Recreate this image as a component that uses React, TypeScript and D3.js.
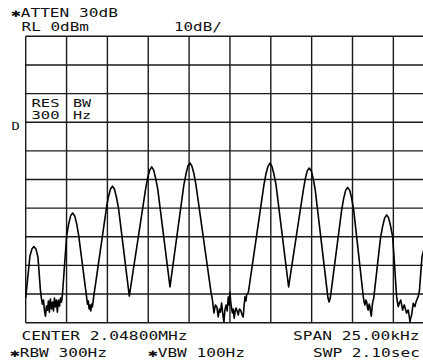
import * as d3 from 'd3';

// Screen geometry (spectrum analyzer CRT plot)
const WIDTH = 423;
const HEIGHT = 361;
const PLOT = { left: 25.7, top: 36.3, width: 408.5, height: 286.4 };

// Axis settings read from the annotations
const SPAN_KHZ = 25;          // SPAN 25.00kHz, centred on 2.04800 MHz
const REF_LEVEL = 0;          // RL 0dBm
const DB_PER_DIV = 10;        // 10dB/
const DIVISIONS = 10;

// Trace: [offset from centre in kHz, level in dBm]
const trace: [number, number][] = [
  [-12.5, -91.4], [-12.39, -85.1], [-12.24, -76.7], [-12.12, -74.3], [-12.0, -73.4],
  [-11.87, -74.3], [-11.75, -77.1], [-11.6, -88.6],
  [-11.54, -91.4], [-11.48, -93.5], [-11.41, -92.1], [-11.35, -95.9], [-11.29, -97.7],
  [-11.23, -94.2], [-11.17, -95.6], [-11.11, -92.4], [-11.05, -96.3], [-10.99, -91.7],
  [-10.92, -95.2], [-10.86, -92.8], [-10.8, -95.9], [-10.74, -91.4], [-10.68, -94.5],
  [-10.62, -92.1], [-10.56, -96.3], [-10.5, -92.1], [-10.43, -94.2], [-10.37, -91.4],
  [-10.31, -92.8], [-10.25, -90.0],
  [-9.99, -69.4], [-9.87, -65.5], [-9.75, -62.7], [-9.63, -61.7], [-9.5, -62.7],
  [-9.38, -65.5], [-9.26, -69.4],
  [-8.78, -90.7], [-8.72, -93.5], [-8.67, -92.4], [-8.62, -95.2], [-8.57, -93.8],
  [-8.52, -95.9], [-8.46, -93.5], [-8.42, -94.5], [-8.35, -91.4],
  [-7.56, -60.0], [-7.44, -56.1], [-7.31, -53.3], [-7.19, -52.3], [-7.07, -53.3],
  [-6.95, -56.1], [-6.82, -60.0],
  [-6.16, -90.7],
  [-5.16, -53.3], [-5.04, -49.5], [-4.91, -46.7], [-4.79, -45.6], [-4.67, -46.7],
  [-4.55, -49.5], [-4.42, -53.3],
  [-3.67, -87.5],
  [-2.82, -51.9], [-2.69, -48.1], [-2.57, -45.3], [-2.45, -44.2], [-2.33, -45.3],
  [-2.2, -48.1], [-2.08, -51.9],
  [-1.16, -89.3], [-1.07, -92.1], [-0.98, -96.6], [-0.89, -93.8], [-0.8, -94.5],
  [-0.72, -98.0], [-0.64, -95.2], [-0.58, -96.3], [-0.51, -93.1], [-0.43, -97.3],
  [-0.37, -99.8], [-0.31, -95.6], [-0.24, -93.8], [-0.17, -95.9], [-0.1, -91.0],
  [-0.05, -93.8], [0, -89.3], [0.05, -93.1], [0.1, -94.9], [0.15, -96.6],
  [0.2, -95.2], [0.26, -98.4], [0.32, -95.9], [0.37, -94.9], [0.44, -95.9],
  [0.51, -97.3], [0.58, -95.2], [0.65, -95.6], [0.73, -97.0], [0.81, -98.0],
  [0.87, -93.8], [0.92, -91.0], [0.98, -92.4], [1.02, -90.3], [1.13, -89.3],
  [2.08, -51.9], [2.2, -48.1], [2.33, -45.4], [2.45, -44.3], [2.57, -45.4],
  [2.69, -48.1], [2.82, -51.9],
  [3.59, -87.5],
  [4.49, -53.7], [4.61, -49.8], [4.73, -47.0], [4.85, -46.0], [4.98, -47.0],
  [5.1, -49.8], [5.22, -53.7],
  [6.0, -91.4], [6.07, -92.8], [6.14, -91.4],
  [6.84, -60.5], [6.96, -56.6], [7.08, -53.8], [7.2, -52.8], [7.33, -53.8],
  [7.45, -56.6], [7.57, -60.5],
  [8.16, -90.9], [8.21, -92.8], [8.26, -93.8], [8.32, -92.1], [8.37, -92.8],
  [8.42, -94.9], [8.46, -95.6], [8.52, -93.5], [8.57, -94.5], [8.61, -96.6],
  [8.65, -97.7], [8.69, -95.2], [8.73, -93.1], [8.8, -91.4],
  [9.22, -70.1], [9.35, -66.2], [9.47, -63.4], [9.59, -62.4], [9.71, -63.4],
  [9.83, -66.2], [9.96, -70.1],
  [10.2, -90.9], [10.25, -92.8], [10.3, -94.4], [10.37, -93.1], [10.45, -92.1],
  [10.51, -93.8], [10.57, -95.6], [10.62, -94.5], [10.67, -93.8], [10.74, -95.2],
  [10.81, -96.7], [10.86, -95.9], [10.91, -95.6], [10.97, -97.7], [11.02, -99.7],
  [11.06, -98.4], [11.12, -97.3], [11.17, -95.2], [11.22, -93.2], [11.27, -93.8],
  [11.32, -94.4], [11.37, -93.1], [11.43, -92.1], [11.48, -91.4], [11.52, -90.9],
  [11.6, -88.6], [11.75, -77.1], [11.87, -74.3], [12.0, -73.4], [12.12, -74.3],
  [12.24, -77.1], [12.39, -88.6],
];

// Screen annotations
const headerLines = ['✱ATTEN 30dB', 'RL 0dBm', '10dB/'];
const footerLines = ['CENTER 2.04800MHz', 'SPAN 25.00kHz', '✱RBW 300Hz', '✱VBW 100Hz', 'SWP 2.10sec'];
const resBwBox = ['RES', 'BW', '300', 'Hz'];

const CELL = 9.85; // character pitch of the screen font
const FONT = "'DejaVu Sans Mono', 'DejaVu Sans', monospace";

function ScreenText({ x, y, text, size = 11.6 }: { x: number; y: number; text: string; size?: number }) {
  const n = Array.from(text).length;
  return (
    <text
      x={x}
      y={y}
      fontFamily={FONT}
      fontSize={size}
      fill="#111"
      textLength={n * CELL - 1.5}
      lengthAdjust="spacingAndGlyphs"
    >
      {text}
    </text>
  );
}

export default function App() {
  const x = d3.scaleLinear()
    .domain([-SPAN_KHZ / 2, SPAN_KHZ / 2])
    .range([PLOT.left, PLOT.left + PLOT.width]);

  const y = d3.scaleLinear()
    .domain([REF_LEVEL, REF_LEVEL - DB_PER_DIV * DIVISIONS])
    .range([PLOT.top, PLOT.top + PLOT.height]);

  const freqLines = d3.range(DIVISIONS + 1).map(i => -SPAN_KHZ / 2 + (i * SPAN_KHZ) / DIVISIONS);
  const levelLines = d3.range(DIVISIONS + 1).map(i => REF_LEVEL - i * DB_PER_DIV);

  const line = d3.line<[number, number]>()
    .x(d => x(d[0]))
    .y(d => y(d[1]));

  return (
    <svg
      width={WIDTH}
      height={HEIGHT}
      style={{ position: 'absolute', left: 0, top: 0, display: 'block', background: '#fff' }}
    >
      <rect width={WIDTH} height={HEIGHT} fill="#fff" />

      {/* Graticule */}
      <g stroke="#1a1a1a" strokeWidth={1.4}>
        {freqLines.map(f => (
          <line key={'v' + f} x1={x(f)} x2={x(f)} y1={y(REF_LEVEL)} y2={y(REF_LEVEL - DB_PER_DIV * DIVISIONS)} />
        ))}
        {levelLines.map(l => (
          <line key={'h' + l} x1={x(-SPAN_KHZ / 2)} x2={x(SPAN_KHZ / 2)} y1={y(l)} y2={y(l)} />
        ))}
      </g>

      {/* Trace */}
      <path d={line(trace) ?? ''} fill="none" stroke="#000" strokeWidth={1.6} strokeLinejoin="round" />

      {/* Header */}
      <ScreenText x={11} y={16.7} text={headerLines[0]} />
      <ScreenText x={21.5} y={30.7} text={headerLines[1]} />
      <ScreenText x={174} y={30.7} text={headerLines[2]} />

      {/* RES BW box */}
      <ScreenText x={31.5} y={106.5} text={resBwBox[0]} size={10.8} />
      <ScreenText x={73} y={106.5} text={resBwBox[1]} size={10.8} />
      <ScreenText x={31.5} y={118.5} text={resBwBox[2]} size={10.8} />
      <ScreenText x={73} y={118.5} text={resBwBox[3]} size={10.8} />

      {/* Display line marker */}
      <ScreenText x={11.5} y={129.5} text="D" size={10.5} />

      {/* Footer */}
      <ScreenText x={21.5} y={340} text={footerLines[0]} />
      <ScreenText x={293} y={340} text={footerLines[1]} />
      <ScreenText x={10} y={356.7} text={footerLines[2]} />
      <ScreenText x={148} y={356.7} text={footerLines[3]} />
      <ScreenText x={313} y={356.7} text={footerLines[4]} />
    </svg>
  );
}
